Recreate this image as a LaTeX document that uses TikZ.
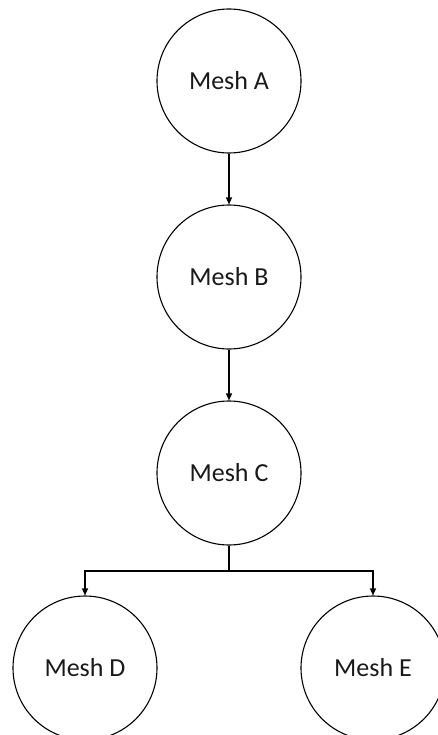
\documentclass[tikz,border=0pt]{standalone}
\usepackage{fontspec}
\setmainfont{Carlito}
\usetikzlibrary{arrows.meta}
\begin{document}
\begin{tikzpicture}[x=1pt,y=1pt,
  mesh/.style={circle,draw,line width=1.1pt,minimum size=144pt,inner sep=0pt,
    font=\fontsize{26}{30}\selectfont,text=black!90},
  conn/.style={line width=1.3pt,-{Triangle[length=7pt,width=6pt]}}]
\useasboundingbox (0,0) rectangle (437,-735);
\node[mesh] (A) at (229,-81) {Mesh A};
\node[mesh] (B) at (229,-277) {Mesh B};
\node[mesh] (C) at (229,-473) {Mesh C};
\node[mesh] (D) at (85,-668) {Mesh D};
\node[mesh] (E) at (373,-668) {Mesh E};
\coordinate (j) at (229,-571);
\draw[conn] (A) -- (B);
\draw[conn] (B) -- (C);
\draw[line width=1.3pt] (C) -- (j);
\draw[conn] (j) -| (D);
\draw[conn] (j) -| (E);
\end{tikzpicture}
\end{document}
